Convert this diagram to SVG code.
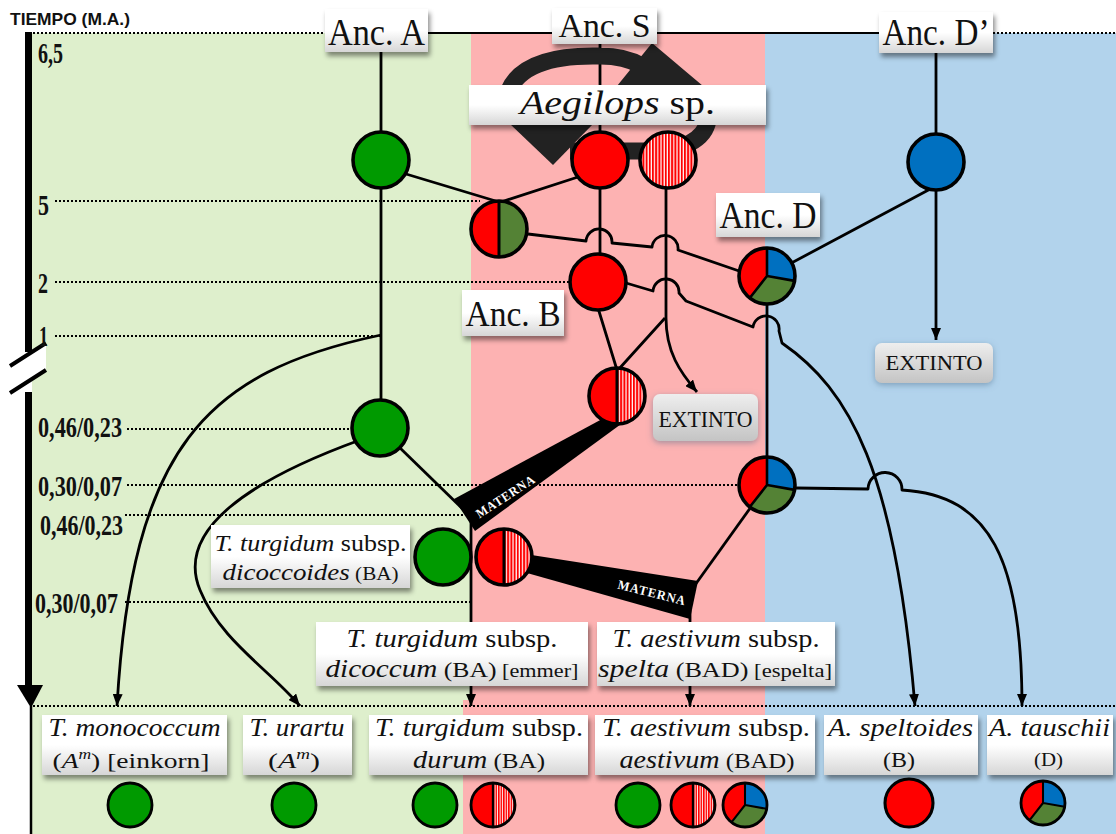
<svg xmlns="http://www.w3.org/2000/svg" width="1116" height="834" viewBox="0 0 1116 834">
<defs>
<style>
.ln{fill:none;stroke:#000;stroke-width:2.8;stroke-linejoin:round}
.ar{marker-end:url(#ah)}
.dot{fill:none;stroke:#000;stroke-width:2;stroke-dasharray:2 2}
.box{fill:url(#gb);filter:url(#sh)}
.ext{fill:url(#ge);filter:url(#sh2)}
.sf{font-family:"Liberation Serif","DejaVu Serif",serif;fill:#111}
.tm{font-family:"Liberation Serif","DejaVu Serif",serif;font-weight:bold;font-size:29px;fill:#111}
.it{font-style:italic}
.wt{font-family:"Liberation Serif","DejaVu Serif",serif;font-size:13px;font-weight:bold;fill:#fff;letter-spacing:1px}
.arrowband{fill:none;stroke:#222;stroke-width:17}
</style>
<linearGradient id="gb" x1="0" y1="0" x2="0" y2="1"><stop offset="0" stop-color="#fff"/><stop offset="0.5" stop-color="#fff"/><stop offset="1" stop-color="#d6d6d6"/></linearGradient>
<linearGradient id="ge" x1="0" y1="0" x2="0" y2="1"><stop offset="0" stop-color="#eeeeee"/><stop offset="1" stop-color="#c4c4c4"/></linearGradient>
<filter id="sh" x="-10%" y="-20%" width="130%" height="160%"><feDropShadow dx="2" dy="4" stdDeviation="2.5" flood-color="#000" flood-opacity="0.45"/></filter>
<filter id="sh2" x="-15%" y="-25%" width="130%" height="160%"><feDropShadow dx="0" dy="2" stdDeviation="3" flood-color="#4a6a88" flood-opacity="0.5"/></filter>
<pattern id="st" width="3.2" height="6" patternUnits="userSpaceOnUse"><rect width="3.2" height="6" fill="#fff"/><rect width="2" height="6" fill="#f00"/></pattern>
<marker id="ah" viewBox="0 0 12 10" refX="12" refY="5" markerWidth="12" markerHeight="10" markerUnits="userSpaceOnUse" orient="auto"><path d="M0,0L12,5L0,10z" fill="#000"/></marker>
<g id="cG"><circle r="28" fill="#009a00" stroke="#000" stroke-width="3.6"/></g>
<g id="cR"><circle r="28" fill="#f00" stroke="#000" stroke-width="3.6"/></g>
<g id="cB"><circle r="28" fill="#0070c0" stroke="#000" stroke-width="3.6"/></g>
<g id="cS"><circle r="28" fill="url(#st)" stroke="#000" stroke-width="3.6"/></g>
<g id="cRS"><path d="M0,-28A28,28 0 0 0 0,28Z" fill="#f00"/><path d="M0,-28A28,28 0 0 1 0,28Z" fill="url(#st)"/><path d="M0,-28V28" stroke="#000" stroke-width="3"/><circle r="28" fill="none" stroke="#000" stroke-width="3.6"/></g>
<g id="cRO"><path d="M0,-28A28,28 0 0 0 0,28Z" fill="#f00"/><path d="M0,-28A28,28 0 0 1 0,28Z" fill="#548235"/><path d="M0,-28V28" stroke="#000" stroke-width="3"/><circle r="28" fill="none" stroke="#000" stroke-width="3.6"/></g>
<g id="cT"><path d="M0,0L0,-28A28,28 0 0 1 27.57,4.86Z" fill="#0070c0"/><path d="M0,0L27.57,4.86A28,28 0 0 1 -17.24,22.06Z" fill="#548235"/><path d="M0,0L-17.24,22.06A28,28 0 0 1 0,-28Z" fill="#f00"/><path d="M0,-28L0,0L27.57,4.86M0,0L-17.24,22.06" fill="none" stroke="#000" stroke-width="2.6"/><circle r="28" fill="none" stroke="#000" stroke-width="3.6"/></g>
</defs>

<g id="background">
<rect width="1116" height="834" fill="#fff"/>
<rect x="32" y="33" width="439" height="801" fill="#deefcc"/>
<rect x="471" y="33" width="294" height="668" fill="#fdb2b2"/>
<rect x="463" y="700" width="302" height="134" fill="#fdb2b2"/>
<rect x="765" y="33" width="351" height="801" fill="#b2d3ec"/>
</g>

<g id="timeaxis">
<text x="10" y="25" font-family="Liberation Sans, Arial, sans-serif" font-weight="bold" font-size="17" textLength="120" lengthAdjust="spacingAndGlyphs" fill="#111">TIEMPO (M.A.)</text>
<path d="M28.5,32V352M28.5,392V687" stroke="#000" stroke-width="7"/>
<polygon points="10,366 46,343 46,370 10,393" fill="#fff"/>
<path d="M10,366L46,343M10,393L46,370" stroke="#000" stroke-width="4"/>
<polygon points="17,685 43,685 31,708" fill="#000"/>
<path d="M31,706V834" stroke="#000" stroke-width="2.5"/>
<text class="tm" x="38" y="63" font-size="25" textLength="25" lengthAdjust="spacingAndGlyphs">6,5</text>
<text class="tm" x="38" y="215" textLength="11" lengthAdjust="spacingAndGlyphs">5</text>
<text class="tm" x="38" y="293" textLength="10" lengthAdjust="spacingAndGlyphs">2</text>
<text class="tm" x="39" y="346" textLength="9" lengthAdjust="spacingAndGlyphs">1</text>
<text class="tm" x="38" y="437" textLength="84" lengthAdjust="spacingAndGlyphs">0,46/0,23</text>
<text class="tm" x="38" y="496" textLength="84" lengthAdjust="spacingAndGlyphs">0,30/0,07</text>
<text class="tm" x="40" y="535" textLength="83" lengthAdjust="spacingAndGlyphs">0,46/0,23</text>
<text class="tm" x="35" y="613" textLength="83" lengthAdjust="spacingAndGlyphs">0,30/0,07</text>
</g>

<g id="gridlines">
<path class="dot" d="M33,33H325M993,33H1116"/>
<path d="M428,33H880" stroke="#000" stroke-width="2.2"/>
<path class="dot" d="M55,201H480M55,282H570M55,336H380M127,429H355M127,485H740M125,515H470M125,602H470M33,706H1116"/>
</g>

<g id="connectors">
<path class="ln" d="M381,52V428"/>
<path class="ln ar" d="M381,335C205,372 132,448 117,706"/>
<path class="ln ar" d="M360,440C250,480 175,530 200,590C220,640 270,670 300,706"/>
<path class="ln" d="M398,446L471,517"/>
<path class="ln ar" d="M471,517V706"/>
<path class="ln" d="M600,44V282"/>
<path class="ln" d="M578,177L501,202M406,174L499,202"/>
<path class="ln" d="M528,234L586,241A13,13 0 0 1 612,243L652,247A13,13 0 0 1 678,250L742,272"/>
<path class="ln ar" d="M666,188V318C666,352 680,372 697,392"/>
<path class="ln" d="M665,318L618,370M598,308L617,370"/>
<path class="ln ar" d="M626,283L653,291A13,13 0 0 1 679,293L686,301L753,327A13,13 0 0 1 779,331L782,343C850,390 895,470 915,706"/>
<path class="ln" d="M767,276V485"/>
<path class="ln ar" d="M936,53V340"/>
<path class="ln" d="M934,187L767,276"/>
<path class="ln ar" d="M796,488L868,489A17,17 0 0 1 902,490C990,495 1022,560 1022,706"/>
<path class="ln" d="M756,500L695,585"/>
<path class="ln ar" d="M690,610V706"/>
<polygon points="604,418 628,419 475,531 454,499" fill="#000"/>
<text class="wt" transform="translate(508,500) rotate(-33)" text-anchor="middle" textLength="68" lengthAdjust="spacingAndGlyphs">MATERNA</text>
<polygon points="525,554 527,573 690,619 698,581" fill="#000"/>
<text class="wt" transform="translate(651,597) rotate(14)" text-anchor="middle" textLength="70" lengthAdjust="spacingAndGlyphs">MATERNA</text>
</g>

<g id="cyclearrow">
<path class="arrowband" d="M508,92C520,62 560,55 600,56C618,56 632,60 642,66"/>
<polygon points="652,43 703,86 617,86" fill="#222"/>
<path class="arrowband" stroke-width="13" d="M708,120C705,140 682,151 650,151L570,151"/>
<polygon points="510,124 593,124 553,165" fill="#222"/>
</g>

<g id="anc-a"><rect class="box" x="325" y="9" width="103" height="43"/><text class="sf" x="376.5" y="45" font-size="38" text-anchor="middle" textLength="97" lengthAdjust="spacingAndGlyphs">Anc. A</text></g>
<g id="anc-s"><rect class="box" x="552" y="8" width="105" height="36"/><text class="sf" x="604.5" y="37" font-size="33" text-anchor="middle" textLength="92" lengthAdjust="spacingAndGlyphs">Anc. S</text></g>
<g id="anc-d-prime"><rect class="box" x="879" y="12" width="114" height="41"/><text class="sf" x="936" y="45" font-size="37" text-anchor="middle" textLength="107" lengthAdjust="spacingAndGlyphs">Anc. D’</text></g>
<g id="aegilops"><rect class="box" x="469" y="85" width="297" height="40"/><text class="sf" x="617.5" y="114" font-size="34" text-anchor="middle" textLength="195" lengthAdjust="spacingAndGlyphs"><tspan class="it">Aegilops</tspan> sp.</text></g>
<g id="anc-d"><rect class="box" x="716" y="193" width="104" height="44"/><text class="sf" x="768" y="228" font-size="37" text-anchor="middle" textLength="97" lengthAdjust="spacingAndGlyphs">Anc. D</text></g>
<g id="anc-b"><rect class="box" x="462" y="290" width="102" height="46"/><text class="sf" x="513" y="326" font-size="36" text-anchor="middle" textLength="95" lengthAdjust="spacingAndGlyphs">Anc. B</text></g>
<g id="extinto-d"><rect class="ext" x="875" y="343" width="118" height="40" rx="7"/><text class="sf" x="934" y="370" font-size="22" text-anchor="middle" textLength="97" lengthAdjust="spacingAndGlyphs">EXTINTO</text></g>
<g id="extinto-s"><rect class="ext" x="653" y="394" width="105" height="47" rx="7"/><text class="sf" x="705.5" y="427" font-size="23" text-anchor="middle" textLength="94" lengthAdjust="spacingAndGlyphs">EXTINTO</text></g>

<g id="dicoccoides"><rect class="box" x="211" y="525" width="199" height="63"/>
<text class="sf" x="310.5" y="551" font-size="23" text-anchor="middle" textLength="192" lengthAdjust="spacingAndGlyphs"><tspan class="it">T. turgidum</tspan> subsp.</text>
<text class="sf" x="310.5" y="580" font-size="23" text-anchor="middle" textLength="176" lengthAdjust="spacingAndGlyphs"><tspan class="it">dicoccoides</tspan><tspan font-size="18"> (BA)</tspan></text>
<use href="#cG" transform="translate(443,557)"/><use href="#cRS" transform="translate(504,557)"/></g>
<g id="dicoccum"><rect class="box" x="316" y="622" width="272" height="64"/>
<text class="sf" x="452" y="647" font-size="25" text-anchor="middle" textLength="211" lengthAdjust="spacingAndGlyphs"><tspan class="it">T. turgidum</tspan> subsp.</text>
<text class="sf" x="452" y="677" font-size="25" text-anchor="middle" textLength="253" lengthAdjust="spacingAndGlyphs"><tspan class="it">dicoccum</tspan><tspan font-size="22"> (BA)</tspan><tspan font-size="19"> [emmer]</tspan></text></g>
<g id="spelta"><rect class="box" x="597" y="622" width="238" height="64"/>
<text class="sf" x="716" y="647" font-size="25" text-anchor="middle" textLength="207" lengthAdjust="spacingAndGlyphs"><tspan class="it">T. aestivum</tspan> subsp.</text>
<text class="sf" x="715" y="677" font-size="25" text-anchor="middle" textLength="234" lengthAdjust="spacingAndGlyphs"><tspan class="it">spelta</tspan><tspan font-size="22"> (BAD)</tspan><tspan font-size="19"> [espelta]</tspan></text></g>

<g id="n-anc-a"><use href="#cG" transform="translate(381,160)"/></g>
<g id="n-anc-s"><use href="#cR" transform="translate(600,160)"/></g>
<g id="n-anc-s2"><use href="#cS" transform="translate(668,160)"/></g>
<g id="n-hybrid-ao"><use href="#cRO" transform="translate(499,229)"/></g>
<g id="n-anc-dp"><use href="#cB" transform="translate(936,162)"/></g>
<g id="n-anc-d"><use href="#cT" transform="translate(767,276)"/></g>
<g id="n-anc-b"><use href="#cR" transform="translate(598,282)"/></g>
<g id="n-hybrid-bs"><use href="#cRS" transform="translate(617,396)"/></g>
<g id="n-a2"><use href="#cG" transform="translate(380,428)"/></g>
<g id="n-d2"><use href="#cT" transform="translate(767,485)"/></g>

<g id="monococcum"><rect class="box" x="42" y="715" width="185" height="60"/>
<text class="sf it" x="134.5" y="736" font-size="25" text-anchor="middle" textLength="172" lengthAdjust="spacingAndGlyphs">T. monococcum</text>
<text class="sf" x="131" y="768" font-size="22" text-anchor="middle" textLength="157" lengthAdjust="spacingAndGlyphs">(<tspan class="it">A</tspan><tspan class="it" font-size="14" dy="-9">m</tspan><tspan dy="9">) [einkorn]</tspan></text>
<use href="#cG" transform="translate(130,805) scale(0.786)"/></g>
<g id="urartu"><rect class="box" x="243" y="715" width="109" height="60"/>
<text class="sf it" x="297" y="736" font-size="25" text-anchor="middle" textLength="95" lengthAdjust="spacingAndGlyphs">T. urartu</text>
<text class="sf" x="294" y="768" font-size="22" text-anchor="middle" textLength="52" lengthAdjust="spacingAndGlyphs">(<tspan class="it">A</tspan><tspan class="it" font-size="14" dy="-9">m</tspan><tspan dy="9">)</tspan></text>
<use href="#cG" transform="translate(294,805) scale(0.786)"/></g>
<g id="durum"><rect class="box" x="369" y="715" width="219" height="60"/>
<text class="sf" x="479" y="736" font-size="25" text-anchor="middle" textLength="208" lengthAdjust="spacingAndGlyphs"><tspan class="it">T. turgidum</tspan> subsp.</text>
<text class="sf" x="479" y="768" font-size="25" text-anchor="middle" textLength="132" lengthAdjust="spacingAndGlyphs"><tspan class="it">durum</tspan><tspan font-size="22"> (BA)</tspan></text>
<use href="#cG" transform="translate(435,805) scale(0.786)"/><use href="#cRS" transform="translate(493,805) scale(0.786)"/></g>
<g id="aestivum"><rect class="box" x="595" y="715" width="220" height="60"/>
<text class="sf" x="706" y="736" font-size="25" text-anchor="middle" textLength="208" lengthAdjust="spacingAndGlyphs"><tspan class="it">T. aestivum</tspan> subsp.</text>
<text class="sf" x="707" y="768" font-size="25" text-anchor="middle" textLength="175" lengthAdjust="spacingAndGlyphs"><tspan class="it">aestivum</tspan><tspan font-size="22"> (BAD)</tspan></text>
<use href="#cG" transform="translate(638,805) scale(0.786)"/><use href="#cRS" transform="translate(693,805) scale(0.786)"/><use href="#cT" transform="translate(745,805) scale(0.786)"/></g>
<g id="speltoides"><rect class="box" x="824" y="715" width="154" height="60"/>
<text class="sf it" x="900.5" y="736" font-size="25" text-anchor="middle" textLength="145" lengthAdjust="spacingAndGlyphs">A. speltoides</text>
<text class="sf" x="899" y="767" font-size="22" text-anchor="middle" textLength="32" lengthAdjust="spacingAndGlyphs">(B)</text>
<use href="#cR" transform="translate(909,803) scale(0.857)"/></g>
<g id="tauschii"><rect class="box" x="987" y="715" width="126" height="60"/>
<text class="sf it" x="1049.5" y="736" font-size="25" text-anchor="middle" textLength="121" lengthAdjust="spacingAndGlyphs">A. tauschii</text>
<text class="sf" x="1048.5" y="766" font-size="19" text-anchor="middle" textLength="29" lengthAdjust="spacingAndGlyphs">(D)</text>
<use href="#cT" transform="translate(1043,803) scale(0.786)"/></g>
</svg>
